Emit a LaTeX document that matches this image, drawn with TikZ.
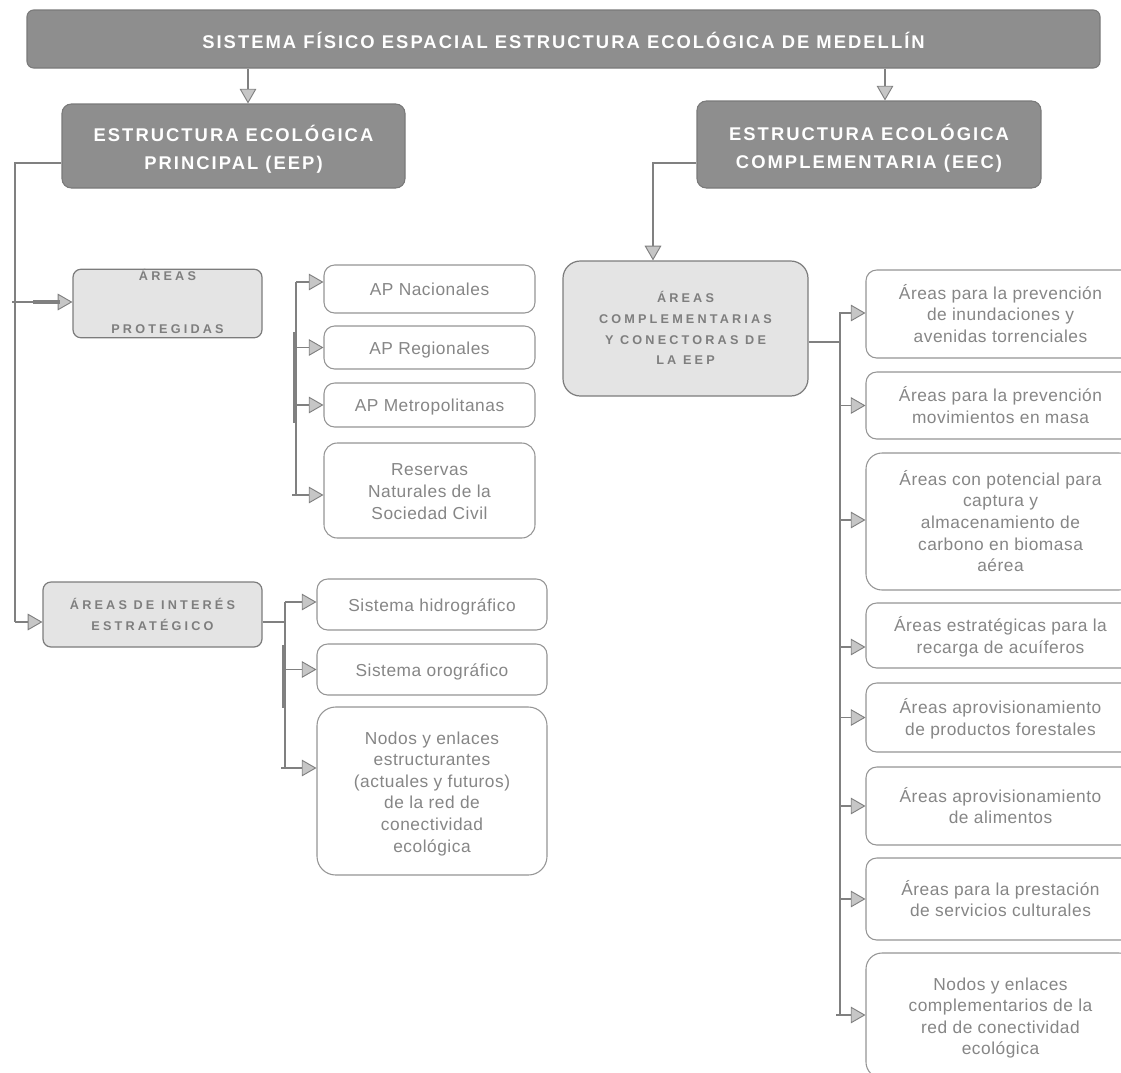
\documentclass[tikz,border=0pt]{standalone}
\usepackage{fontspec}
\setmainfont{Liberation Sans}
\newfontfamily\headfont{Liberation Sans}[LetterSpace=11]
\newfontfamily\tagfont{Liberation Sans}[LetterSpace=25]
\newfontfamily\itemfont{Liberation Sans}[LetterSpace=3]
\usetikzlibrary{arrows.meta}

\definecolor{darkbox}{HTML}{8E8E8E}
\definecolor{darkedge}{HTML}{7A7A7A}
\definecolor{lightbox}{HTML}{E4E4E4}
\definecolor{lightedge}{HTML}{7C7C7C}
\definecolor{wire}{HTML}{808080}
\definecolor{tipfill}{HTML}{C6C6C6}
\definecolor{softtext}{HTML}{868686}
\definecolor{tagtext}{HTML}{7E7E7E}
\definecolor{thinedge}{HTML}{959595}

% centred block of lines, row spacing = current \baselineskip,
% lowered by \textdrop to balance the strut of the first line
\def\textdrop{0pt}
\newcommand{\boxlines}[1]{\raisebox{-\textdrop}[\height][\depth]{\begin{tabular}{@{}c@{}}#1\end{tabular}}}
\renewcommand{\arraystretch}{1}

\tikzset{
  % span={left}{top}{right}{bottom}: box edges in picture units
  span/.style n args={4}{
    at={({(#1+#3)/2},{(#2+#4)/2})}, anchor=center,
    minimum width={(#3-#1)*0.75pt}, minimum height={(#4-#2)*0.75pt}},
  headbox/.style={draw=darkedge, line width=0.8pt, fill=darkbox, rounded corners=7pt,
    text=white, inner sep=0pt,
    font={\headfont\bfseries\fontsize{13.8}{21}\selectfont\def\textdrop{3pt}}},
  tagbox/.style={draw=lightedge, line width=0.9pt, fill=lightbox, rounded corners=6pt,
    text=tagtext, inner sep=0pt,
    font={\tagfont\bfseries\fontsize{9.5}{16}\selectfont\def\textdrop{1pt}}},
  itembox/.style={draw=thinedge, line width=0.8pt, fill=white, rounded corners=8pt,
    text=softtext, inner sep=0pt,
    font={\itemfont\fontsize{13}{16.2}\selectfont\def\textdrop{2pt}}},
  wireline/.style={draw=wire, line width=1.4pt},
  feed/.style={wireline, -{Triangle[length=11pt, width=12.5pt, fill=tipfill, line width=0.7pt]}},
  heavy/.style={draw=wire, line width=2.6pt},
}

\begin{document}
\begin{tikzpicture}[x=0.75pt, y=-0.75pt]
\useasboundingbox (0,0) rectangle (1121,1072);
\clip (0,0) rectangle (1121,1072);

% ---- top level ----
\node[headbox, rounded corners=5pt, span={27}{10}{1100}{68}] (sys)
  {\boxlines{SISTEMA FÍSICO ESPACIAL ESTRUCTURA ECOLÓGICA DE MEDELLÍN}};
\node[headbox, span={62}{104}{405}{188}] (eep)
  {\boxlines{ESTRUCTURA ECOLÓGICA\\PRINCIPAL (EEP)}};
\node[headbox, span={697}{101}{1041}{188}] (eec)
  {\boxlines{ESTRUCTURA ECOLÓGICA\\COMPLEMENTARIA (EEC)}};

% ---- principal structure ----
\node[tagbox, font={\tagfont\bfseries\fontsize{9.5}{10}\selectfont\def\textdrop{0pt}},
  span={73}{270}{262}{337}] (ap) {\boxlines{ÁREAS\\[30pt]PROTEGIDAS}};
\node[tagbox, span={43}{582}{262}{647}] (aie) {\boxlines{ÁREAS DE INTERÉS\\ESTRATÉGICO}};

\node[itembox, span={324}{265}{535}{313}] (apn) {\boxlines{AP Nacionales}};
\node[itembox, span={324}{326}{535}{369}] (apr) {\boxlines{AP Regionales}};
\node[itembox, span={324}{383}{535}{427}] (apm) {\boxlines{AP Metropolitanas}};
\node[itembox, rounded corners=10pt, span={324}{443}{535}{538}] (rnsc)
  {\boxlines{Reservas\\Naturales de la\\Sociedad Civil}};

\node[itembox, span={317}{579}{547}{630}] (hid) {\boxlines{Sistema hidrográfico}};
\node[itembox, span={317}{644}{547}{695}] (oro) {\boxlines{Sistema orográfico}};
\node[itembox, rounded corners=14pt, span={317}{707}{547}{875}] (nod)
  {\boxlines{Nodos y enlaces\\estructurantes\\(actuales y futuros)\\de la red de\\conectividad\\ecológica}};

% ---- complementary structure ----
\node[tagbox, rounded corners=13pt,
  font={\tagfont\bfseries\fontsize{9.5}{15.5}\selectfont\def\textdrop{1pt}},
  span={563}{261}{808}{396}] (acc)
  {\boxlines{ÁREAS\\COMPLEMENTARIAS\\Y CONECTORAS DE\\LA EEP}};

\node[itembox, span={866}{270}{1135}{358}] (r1)
  {\boxlines{Áreas para la prevención\\de inundaciones y\\avenidas torrenciales}};
\node[itembox, span={866}{372}{1135}{439}] (r2)
  {\boxlines{Áreas para la prevención\\movimientos en masa}};
\node[itembox, rounded corners=12pt, span={866}{453}{1135}{590}] (r3)
  {\boxlines{Áreas con potencial para\\captura y\\almacenamiento de\\carbono en biomasa\\aérea}};
\node[itembox, span={866}{603}{1135}{668}] (r4)
  {\boxlines{Áreas estratégicas para la\\recarga de acuíferos}};
\node[itembox, span={866}{683}{1135}{752}] (r5)
  {\boxlines{Áreas aprovisionamiento\\de productos forestales}};
\node[itembox, span={866}{767}{1135}{845}] (r6)
  {\boxlines{Áreas aprovisionamiento\\de alimentos}};
\node[itembox, span={866}{858}{1135}{940}] (r7)
  {\boxlines{Áreas para la prestación\\de servicios culturales}};
\node[itembox, rounded corners=12pt, span={866}{953}{1135}{1078}] (r8)
  {\boxlines{Nodos y enlaces\\complementarios de la\\red de conectividad\\ecológica}};

% ---- junction points ----
\coordinate (xL) at (248,0);
\coordinate (xR) at (885,0);
\coordinate (jL) at (15,163);
\coordinate (jAIE) at (15,622);
\coordinate (jAP) at (12,302);
\coordinate (hAP) at (33,302);
\coordinate (bAPtop) at (296,282);
\coordinate (bAPbot) at (296,495);
\coordinate (bAPstub) at (292,495);
\coordinate (tAP1) at (295,332);
\coordinate (tAP2) at (295,423);
\coordinate (bAIE) at (285,622);
\coordinate (bAIEtop) at (285,602);
\coordinate (bAIEbot) at (285,768);
\coordinate (bAIEstub) at (281,768);
\coordinate (tAIE1) at (284,645);
\coordinate (tAIE2) at (284,708);
\coordinate (jC) at (653,163);
\coordinate (bR) at (840,342);
\coordinate (bRtop) at (840,312);
\coordinate (bRbot) at (840,1015);
\coordinate (bRstub) at (836,1015);

% ---- connectors from the top ----
\draw[feed] (sys.south -| xL) -- (eep.north -| xL);
\draw[feed] (sys.south -| xR) -- (eec.north -| xR);

% ---- principal branch ----
\draw[wireline] (eep.west |- jL) -- (jL) -- (jAIE);
\draw[feed] (jAIE) -- (aie.west |- jAIE);
\draw[feed] (jAP) -- (ap.west |- jAP);
\draw[heavy] (hAP) -- ([xshift=-9pt]ap.west |- jAP);

\draw[wireline] (bAPtop) -- (bAPbot);
\draw[heavy] (tAP1) -- (tAP2);
\draw[feed] (bAPtop) -- (apn.west |- bAPtop);
\draw[feed] (bAPtop |- apr.west) -- (apr.west);
\draw[feed] (bAPtop |- apm.west) -- (apm.west);
\draw[feed] (bAPstub) -- (rnsc.west |- bAPstub);

\draw[wireline] (aie.east |- bAIE) -- (bAIE);
\draw[wireline] (bAIEtop) -- (bAIEbot);
\draw[heavy] (tAIE1) -- (tAIE2);
\draw[feed] (bAIEtop) -- (hid.west |- bAIEtop);
\draw[feed] (bAIEtop |- oro.west) -- (oro.west);
\draw[feed] (bAIEstub) -- (nod.west |- bAIEstub);

% ---- complementary branch ----
\draw[feed] (eec.west |- jC) -- (jC) -- (acc.north -| jC);
\draw[wireline] (acc.east |- bR) -- (bR);
\draw[wireline] (bRtop) -- (bRbot);
\draw[feed] (bRtop |- 0,313) -- (r1.west |- 0,313);
\draw[feed] (bRtop |- r2.west) -- (r2.west);
\draw[feed] (bRtop |- 0,520) -- (r3.west |- 0,520);
\draw[feed] (bRtop |- 0,647) -- (r4.west |- 0,647);
\draw[feed] (bRtop |- r5.west) -- (r5.west);
\draw[feed] (bRtop |- r6.west) -- (r6.west);
\draw[feed] (bRtop |- r7.west) -- (r7.west);
\draw[feed] (bRstub) -- (r8.west |- bRstub);
\end{tikzpicture}
\end{document}
